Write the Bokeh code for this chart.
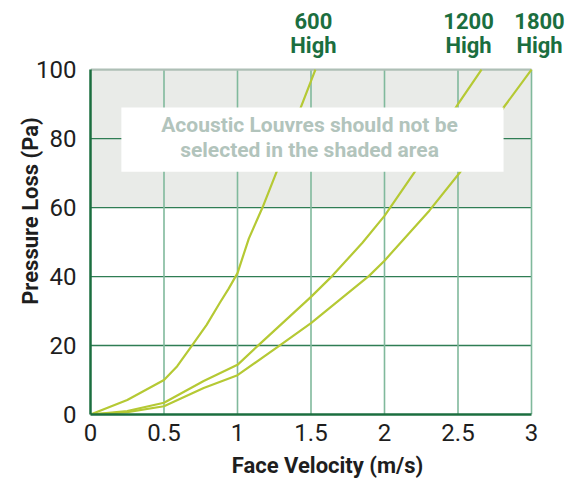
from bokeh.plotting import figure
from bokeh.models import BoxAnnotation, Label, FixedTicker
from bokeh.embed import file_html
from bokeh.resources import INLINE

# --- data ---
series_names = ["600", "1200", "1800"]
x600 = [0, 0.25, 0.5, 0.59, 0.69, 0.79, 0.88, 0.94, 1.0, 1.077, 1.17, 1.27, 1.43, 1.53]
y600 = [0, 4.2, 10, 14, 20, 26, 32.4, 36.5, 41.0, 51, 60, 70.8, 89, 100]
x1200 = [0, 0.25, 0.5, 0.77, 1.0, 1.145, 1.5, 1.645, 1.85, 2.0, 2.2, 2.5, 2.66]
y1200 = [0, 1.0, 3.4, 9.7, 14.4, 20.2, 34.1, 40.2, 49.8, 57.6, 70, 90, 100]
x1800 = [0, 0.25, 0.5, 0.77, 1.0, 1.293, 1.5, 1.895, 2.0, 2.305, 2.51, 2.81, 3.0]
y1800 = [0, 0.7, 2.4, 7.7, 11.4, 20.2, 26.5, 40.2, 44.6, 59.1, 70, 89, 100]
x_ticks = [0, 0.5, 1, 1.5, 2, 2.5, 3]
y_ticks = [0, 20, 40, 60, 80, 100]
shade_from, shade_to = 60, 100
warning_lines = ["Acoustic Louvres should not be", "selected in the shaded area"]

FONT = "Roboto"
CURVE = "#b5c934"
DARK = "#1b6e3f"

x_lo, x_hi = x_ticks[0], x_ticks[-1]
y_lo, y_hi = y_ticks[0], y_ticks[-1]

# frame extended above/right of the data area so the series labels are not clipped
p = figure(frame_width=474, frame_height=407, x_range=(0, 3.2245), y_range=(0, 118),
           output_backend="svg", toolbar_location=None,
           min_border_left=90, min_border_right=1, min_border_top=7, min_border_bottom=62)
p.outline_line_color = None
p.background_fill_color = "white"
p.xgrid.visible = False
p.ygrid.visible = False

# shaded region
p.add_layout(BoxAnnotation(left=x_lo, right=x_hi, bottom=shade_from, top=shade_to,
                           fill_color="#e9ebe8", fill_alpha=1, line_color=None, level="image"))

# grid lines limited to the data area
hy = y_ticks[1:-1]
p.segment(x0=[x_lo] * len(hy), y0=hy, x1=[x_hi] * len(hy), y1=hy,
          line_color="#2f7d54", line_width=1.3)
vx = x_ticks[1:]
p.segment(x0=vx, y0=[y_lo] * len(vx), x1=vx, y1=[y_hi] * len(vx),
          line_color="#80b99c", line_width=1.6)
# top border
p.segment(x0=[x_lo], y0=[y_hi], x1=[x_hi], y1=[y_hi], line_color="#aebfb6", line_width=2.2)

for xs, ys in [(x600, y600), (x1200, y1200), (x1800, y1800)]:
    p.line(xs, ys, line_color=CURVE, line_width=2.2, line_join="round")

# white warning box
p.add_layout(BoxAnnotation(left=0.21, right=2.81, bottom=70.4, top=89.0,
                           fill_color="white", fill_alpha=1, line_color=None, level="annotation"))
for line_text, yy in zip(warning_lines, [83.8, 76.8]):
    p.add_layout(Label(x=1.49, y=yy, text=line_text, text_font=FONT, text_font_size="21px",
                       text_font_style="bold", text_color="#b2c4bc", text_align="center",
                       text_baseline="middle", level="overlay"))

# series labels above the data area
for name, xs, dx in zip(series_names, [x600, x1200, x1800], [-2, -13, 8]):
    p.add_layout(Label(x=xs[-1], y=y_hi, x_offset=dx, y_offset=49, text=name,
                       text_font=FONT, text_font_size="22px", text_font_style="bold",
                       text_color=DARK, text_align="center", text_baseline="alphabetic",
                       level="overlay"))
    p.add_layout(Label(x=xs[-1], y=y_hi, x_offset=dx, y_offset=24, text="High",
                       text_font=FONT, text_font_size="22px", text_font_style="bold",
                       text_color=DARK, text_align="center", text_baseline="alphabetic",
                       level="overlay"))

for ax in (p.xaxis[0], p.yaxis[0]):
    ax.axis_line_color = DARK
    ax.axis_line_width = 2.5
    ax.major_tick_line_color = None
    ax.minor_tick_line_color = None
    ax.major_label_text_font = FONT
    ax.major_label_text_font_size = "24px"
    ax.major_label_text_color = "#1e1e1e"
    ax.axis_label_text_font = FONT
    ax.axis_label_text_font_size = "22px"
    ax.axis_label_text_font_style = "bold"
    ax.axis_label_text_color = "#1e1e1e"

p.xaxis.ticker = FixedTicker(ticks=x_ticks)
p.yaxis.ticker = FixedTicker(ticks=y_ticks)
p.xaxis.bounds = (x_lo, x_hi)
p.yaxis.bounds = (y_lo, y_hi)
p.xaxis.axis_label = "Face Velocity (m/s)"
p.yaxis.axis_label = "Pressure Loss (Pa)"
p.xaxis.major_label_overrides = {0: "0", 0.5: "0.5", 1: "1", 1.5: "1.5", 2: "2", 2.5: "2.5", 3: "3"}
p.xaxis.major_label_standoff = 3
p.yaxis.major_label_standoff = 8
p.xaxis.axis_label_standoff = 9
p.yaxis.axis_label_standoff = -10

open("out.html", "w").write(file_html(p, INLINE))
